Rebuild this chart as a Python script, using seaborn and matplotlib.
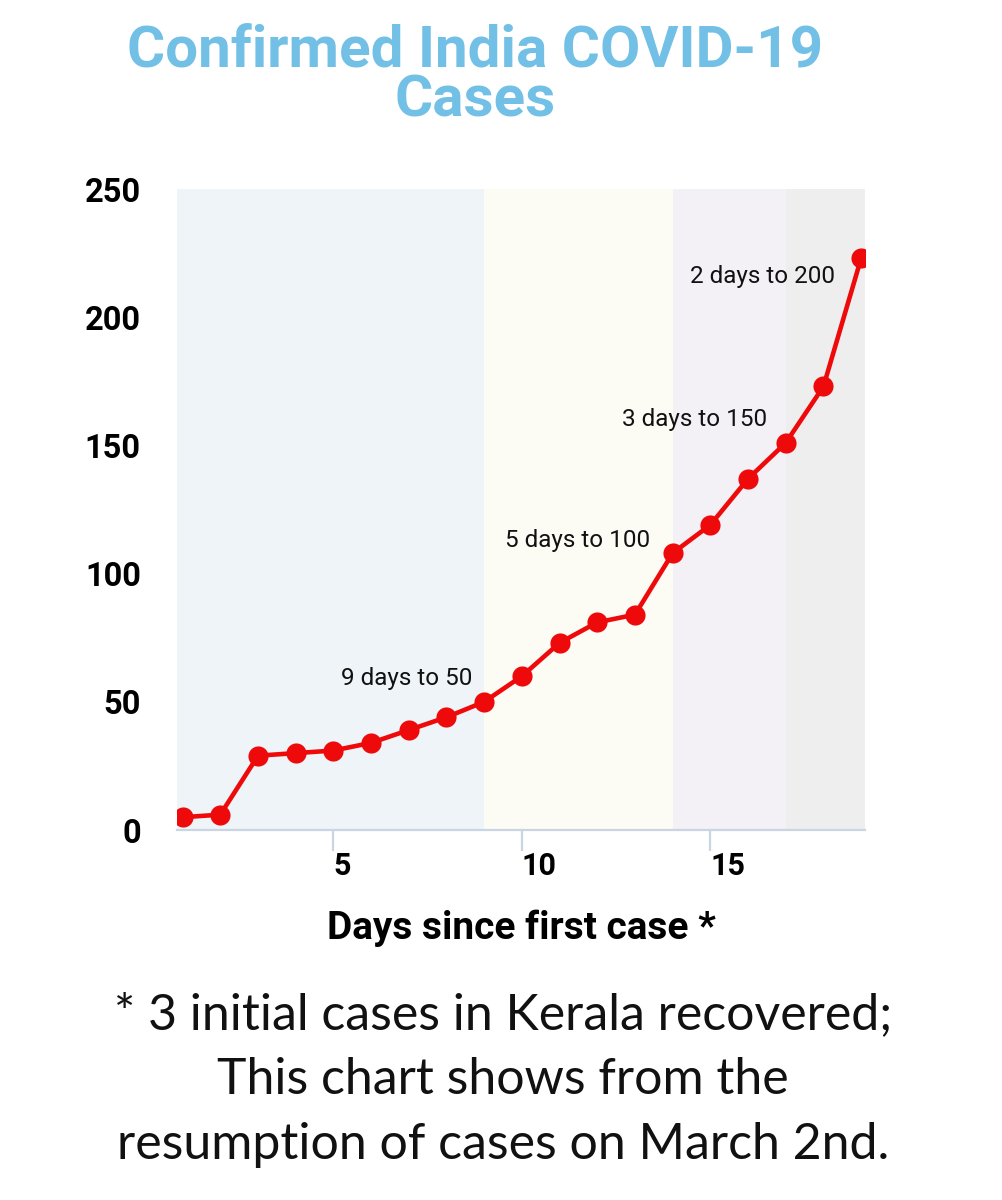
import matplotlib
matplotlib.use("Agg")
import matplotlib.pyplot as plt
import seaborn as sns
import pandas as pd

days = list(range(1, 20))
cases = [5, 6, 29, 30, 31, 34, 39, 44, 50, 60, 73, 81, 84, 108, 119, 137, 151, 173, 223]

band_edges = [0.85, 9, 14, 17, 19.1]
band_colors = ["#eff4f8", "#fcfbf4", "#f3f0f6", "#eeeeef"]

notes = ["9 days to 50", "5 days to 100", "3 days to 150", "2 days to 200"]
note_x = [8.68, 13.4, 16.5, 18.3]
note_y = [59, 113, 160, 216]

x_ticks = [5, 10, 15]
y_ticks = [0, 50, 100, 150, 200, 250]

df = pd.DataFrame({"day": days, "cases": cases})

sns.set_style("white")
plt.rcParams["font.family"] = ["Roboto", "DejaVu Sans"]

fig = plt.figure(figsize=(10.02, 12), dpi=100)
ax = fig.add_axes([0.1766, 0.3083, 0.6866, 0.5342])

for i, c in enumerate(band_colors):
    ax.axvspan(band_edges[i], band_edges[i + 1], color=c, lw=0, zorder=0)

sns.lineplot(data=df, x="day", y="cases", ax=ax, color="#ee0a0a",
             linewidth=3.3, marker="o", markersize=14.5, markeredgewidth=0,
             zorder=3)

for txt, xx, yy in zip(notes, note_x, note_y):
    ax.text(xx, yy, txt, ha="right", va="center", fontsize=17.5, color="#111111")

ax.set_xlim(band_edges[0], band_edges[-1])
ax.set_ylim(0, 250)
ax.set_xticks(x_ticks)
ax.set_yticks(y_ticks)
ax.set_xticklabels([str(t) for t in x_ticks], fontsize=22, fontweight="bold",
                   ha="left", color="black")
ax.set_yticklabels([str(t) for t in y_ticks], fontsize=23.5, fontweight="bold",
                   color="black", va="center_baseline")

for s in ["top", "right", "left"]:
    ax.spines[s].set_visible(False)
ax.spines["bottom"].set_color("#c9d5e3")
ax.spines["bottom"].set_linewidth(1.6)
ax.tick_params(axis="x", length=15, width=1.6, color="#c9d5e3", pad=0,
               direction="out", bottom=True)
ax.tick_params(axis="y", length=0, pad=26)

ax.set_xlabel("Days since first case *", fontsize=28, fontweight="bold",
              labelpad=21, color="black")
ax.set_ylabel("")

fig.text(0.474, 0.9367, "Confirmed India COVID-19\nCases", ha="center",
         va="center", fontsize=42, fontweight="bold", color="#72c0e5",
         linespacing=0.9)

fig.text(0.502, 0.1,
         "* 3 initial cases in Kerala recovered;\nThis chart shows from the\n"
         "resumption of cases on March 2nd.",
         ha="center", va="center", fontsize=36, color="#111111",
         family=["Lato", "DejaVu Sans"], linespacing=1.5)

fig.savefig("out.png", dpi=100, facecolor="white")
